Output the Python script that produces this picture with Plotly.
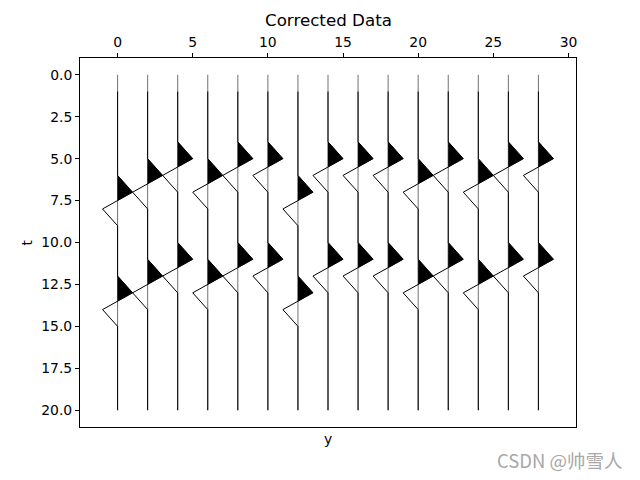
import plotly.graph_objects as go

# ---- data ----
offsets = [0, 2, 4, 6, 8, 10, 12, 14, 16, 18, 20, 22, 24, 26, 28]
first_event = [6, 5, 4, 5, 4, 4, 6, 4, 4, 4, 5, 4, 5, 4, 4]
second_event = [12, 11, 10, 11, 10, 10, 12, 10, 10, 10, 11, 10, 11, 10, 10]
wavelet = [0.0, 1.0, -1.0, 0.0]
t_samples = [1, 2, 3, 4, 5, 6, 7, 8, 9, 10, 11, 12, 13, 14, 15, 16, 17, 18, 19, 20]
t_axis = [0, 20]
x_ticks = [0, 5, 10, 15, 20, 25, 30]
y_ticks = [0.0, 2.5, 5.0, 7.5, 10.0, 12.5, 15.0, 17.5, 20.0]


def build_trace(events):
    vals = []
    for t in t_samples:
        v = 0.0
        for ev in events:
            k = t - ev
            if 0 <= k < len(wavelet):
                v += wavelet[k]
        vals.append(v)
    return vals


def positive_polys(off, vals):
    xs, ys = [], []
    poly = []
    for i in range(len(vals) - 1):
        t0, t1 = t_samples[i], t_samples[i + 1]
        v0, v1 = vals[i], vals[i + 1]
        if v0 > 0 or v1 > 0:
            if not poly:
                if v0 > 0:
                    poly.append((off, t0))
                    poly.append((off + v0, t0))
                else:
                    tc = t0 + (0 - v0) / (v1 - v0) * (t1 - t0) if v1 != v0 else t0
                    poly.append((off, tc))
            if v1 > 0:
                poly.append((off + v1, t1))
            else:
                tc = t0 + (v0 - 0) / (v0 - v1) * (t1 - t0)
                poly.append((off, tc))
                xs += [p[0] for p in poly] + [poly[0][0], None]
                ys += [p[1] for p in poly] + [poly[0][1], None]
                poly = []
    if poly:
        xs += [p[0] for p in poly] + [poly[0][0], None]
        ys += [p[1] for p in poly] + [poly[0][1], None]
    return xs, ys


fig = go.Figure()

fx, fy = [], []
for off, e1, e2 in zip(offsets, first_event, second_event):
    vals = build_trace([e1, e2])
    # baseline
    fig.add_trace(go.Scatter(x=[off, off], y=t_axis, mode="lines",
                             line=dict(color="#333333", width=0.7),
                             hoverinfo="skip", showlegend=False))
    # wiggle
    fig.add_trace(go.Scatter(x=[off + v for v in vals], y=t_samples, mode="lines",
                             line=dict(color="black", width=1.0),
                             hoverinfo="skip", showlegend=False))
    px, py = positive_polys(off, vals)
    fx += px
    fy += py

fig.add_trace(go.Scatter(x=fx, y=fy, mode="lines", fill="toself",
                         fillcolor="black", line=dict(color="black", width=0.3),
                         hoverinfo="skip", showlegend=False))

ML, MR, MT, MB = 80, 64, 58, 53
W, H = 640, 480
plot_h = H - MT - MB
plot_w = W - ML - MR


def py_to_paper(ypx):
    return (H - MB - ypx) / plot_h


def px_to_paper(xpx):
    return (xpx - ML) / plot_w


font = "DejaVu Sans"
fig.update_layout(
    width=W, height=H,
    margin=dict(l=ML, r=MR, t=MT, b=MB, autoexpand=False),
    paper_bgcolor="white", plot_bgcolor="white",
    font=dict(family=font, size=13.9, color="black"),
    showlegend=False,
    xaxis=dict(side="top", range=[-2.5, 30.5], tickvals=x_ticks,
               ticktext=[str(v) for v in x_ticks], automargin=False,
               showgrid=False, zeroline=False, showline=True, mirror=True,
               linecolor="black", linewidth=1, ticks="outside", ticklen=4,
               tickcolor="black", tickwidth=1, tickfont=dict(size=13.9)),
    yaxis=dict(range=[21, -1], tickvals=y_ticks, automargin=False,
               ticktext=[f"{v:.1f}" for v in y_ticks],
               showgrid=False, zeroline=False, showline=True, mirror=True,
               linecolor="black", linewidth=1, ticks="outside", ticklen=4,
               tickcolor="black", tickwidth=1, tickfont=dict(size=13.9)),
    annotations=[
        dict(text="Corrected Data", x=0.5, xref="paper", y=py_to_paper(20), yref="paper",
             yanchor="middle", showarrow=False, font=dict(size=16.7)),
        dict(text="y", x=0.5, xref="paper", y=py_to_paper(439), yref="paper",
             yanchor="middle", showarrow=False, font=dict(size=13.9)),
        dict(text="t", x=px_to_paper(26), xref="paper", y=0.5, yref="paper",
             xanchor="center", yanchor="middle", textangle=-90, showarrow=False,
             font=dict(size=13.9)),
        dict(text="CSDN @帅雪人", x=px_to_paper(625), xref="paper", y=py_to_paper(460),
             yref="paper", xanchor="right", yanchor="middle", showarrow=False,
             font=dict(size=18.5, color="#a8a8a8", family="Noto Sans CJK SC")),
    ],
)

fig.write_html("out.html", config={"displayModeBar": False},
               post_script="document.body.style.margin='0';")
